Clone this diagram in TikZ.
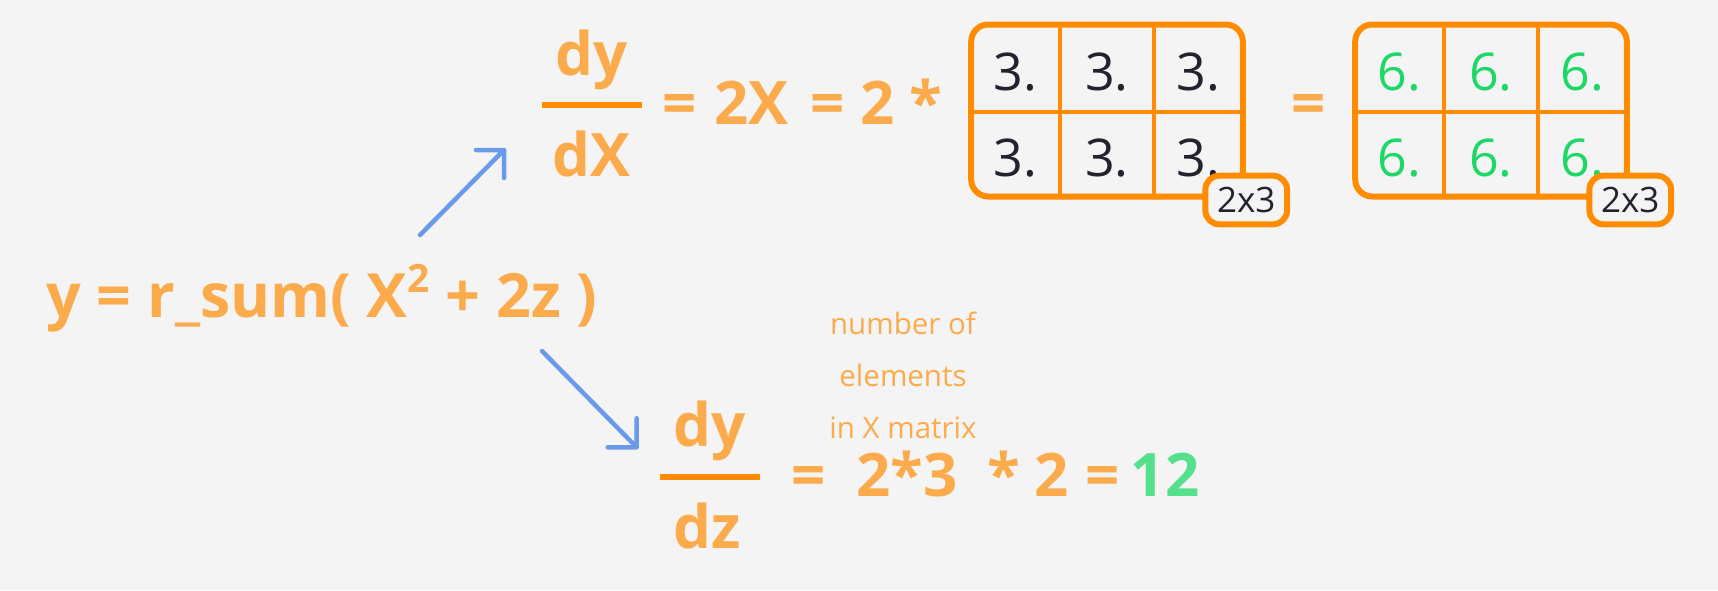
\documentclass[tikz,border=0pt]{standalone}
\usepackage{fontspec}
\setmainfont{Open Sans}
\definecolor{bgc}{HTML}{F4F4F4}
\definecolor{txtorange}{HTML}{FCAB4C}
\definecolor{lineorange}{HTML}{FF8C00}
\definecolor{arrblue}{HTML}{6A9BEB}
\definecolor{greensix}{HTML}{1DD866}
\definecolor{greentwelve}{HTML}{55E08C}
\definecolor{darkc}{HTML}{23232F}
\begin{document}
\begin{tikzpicture}[x=1pt,y=-1pt,
  bigtxt/.style={font=\fontsize{60}{72}\selectfont\bfseries, text=txtorange, inner sep=0pt, anchor=base},
  cellnum/.style={font=\fontsize{52}{60}\selectfont, inner sep=0pt, anchor=base},
  darknum/.style={cellnum, text=darkc},
  greennum/.style={cellnum, text=greensix},
  dimbox/.style={draw=lineorange, line width=6pt, rounded corners=14pt, fill=bgc,
    minimum width=81.7pt, minimum height=48.6pt, inner sep=0pt,
    font=\fontsize{35}{38}\selectfont, text=darkc},
  matbox/.style={draw=lineorange, line width=6pt, rounded corners=17pt,
    minimum width=271.6pt, minimum height=172pt, inner sep=0pt},
  gridline/.style={draw=lineorange, line width=4pt},
  frbar/.style={draw=lineorange, line width=6pt},
  arr/.style={draw=arrblue, line width=4.5pt, line cap=round, line join=round},
  note/.style={font=\fontsize{29.5}{35}\selectfont, text=txtorange, inner sep=0pt, anchor=base}
]
\fill[bgc] (0,0) rectangle (1718,590);
\useasboundingbox (0,0) rectangle (1718,590);

% main equation
\node[bigtxt, font=\fontsize{61}{72}\selectfont\bfseries, anchor=base west] (main) at (46,317.7)
  {y = r\_sum( X\raisebox{25pt}{\fontsize{39}{40}\selectfont 2} + 2z )};

% arrows
\coordinate (a1s) at (420,235);
\coordinate (a1e) at (504,150);
\coordinate (a2s) at (542,351);
\coordinate (a2e) at (636.7,447.3);
\draw[arr] (a1s) -- (a1e) (a1e) ++(-28,0) -- (a1e) -- ++(0,28);
\draw[arr] (a2s) -- (a2e) (a2e) ++(-29,0) -- (a2e) -- ++(0,-29);

% dy/dX
\node[bigtxt] (dy1) at (591.5,75) {dy};
\node[bigtxt] (dx1) at (591.3,176) {dX};
\draw[frbar] (541.7,105) -- (641.7,105);
\node[bigtxt] (e1) at (679.7,124) {=};
\node[bigtxt] (twoX) at (751.5,124) {2X};
\node[bigtxt] (e2) at (827.8,124) {=};
\node[bigtxt] (two1) at (878,124) {2};
\node[bigtxt] (star1) at (926.3,124) {*};

% matrix 1
\node[matbox] (m1) at (1107,110.5) {};
\draw[gridline] (1059.7,24.5) -- (1059.7,196.5);
\draw[gridline] (1154,24.5) -- (1154,196.5);
\draw[gridline] (971.2,111.7) -- (1242.8,111.7);
\node[darknum] (c11) at (1015.5,90) {3.};
\node[darknum] (c12) at (1106.9,90) {3.};
\node[darknum] (c13) at (1198.4,90) {3.};
\node[darknum] (c21) at (1015.5,176.7) {3.};
\node[darknum] (c22) at (1106.9,176.7) {3.};
\node[darknum] (c23) at (1198.4,176.7) {3.};
\node[dimbox] (l1) at (1246.2,200) {2x3};

\node[bigtxt] (e3) at (1308.8,124) {=};

% matrix 2
\node[matbox] (m2) at (1491,110.5) {};
\draw[gridline] (1443.7,24.5) -- (1443.7,196.5);
\draw[gridline] (1538,24.5) -- (1538,196.5);
\draw[gridline] (1355.2,111.7) -- (1626.8,111.7);
\node[greennum] (d11) at (1399.5,90) {6.};
\node[greennum] (d12) at (1490.9,90) {6.};
\node[greennum] (d13) at (1582.4,90) {6.};
\node[greennum] (d21) at (1399.5,176.7) {6.};
\node[greennum] (d22) at (1490.9,176.7) {6.};
\node[greennum] (d23) at (1582.4,176.7) {6.};
\node[dimbox] (l2) at (1630.2,200) {2x3};

% dy/dz
\node[bigtxt] (dy2) at (710,446) {dy};
\node[bigtxt] (dz2) at (707,548) {dz};
\draw[frbar] (660,477) -- (760,477);

% note
\node[note] (n1) at (903,334) {number of};
\node[note] (n2) at (903,386) {elements};
\node[note] (n3) at (903,438) {in X matrix};

% bottom chain
\node[bigtxt] (e4) at (809,496) {=};
\node[bigtxt] (tt) at (907,496) {2*3};
\node[bigtxt] (star2) at (1003.5,496) {*};
\node[bigtxt] (two2) at (1051.5,496) {2};
\node[bigtxt] (e5) at (1102.5,496) {=};
\node[bigtxt, text=greentwelve] (res) at (1165,496) {12};
\end{tikzpicture}
\end{document}
